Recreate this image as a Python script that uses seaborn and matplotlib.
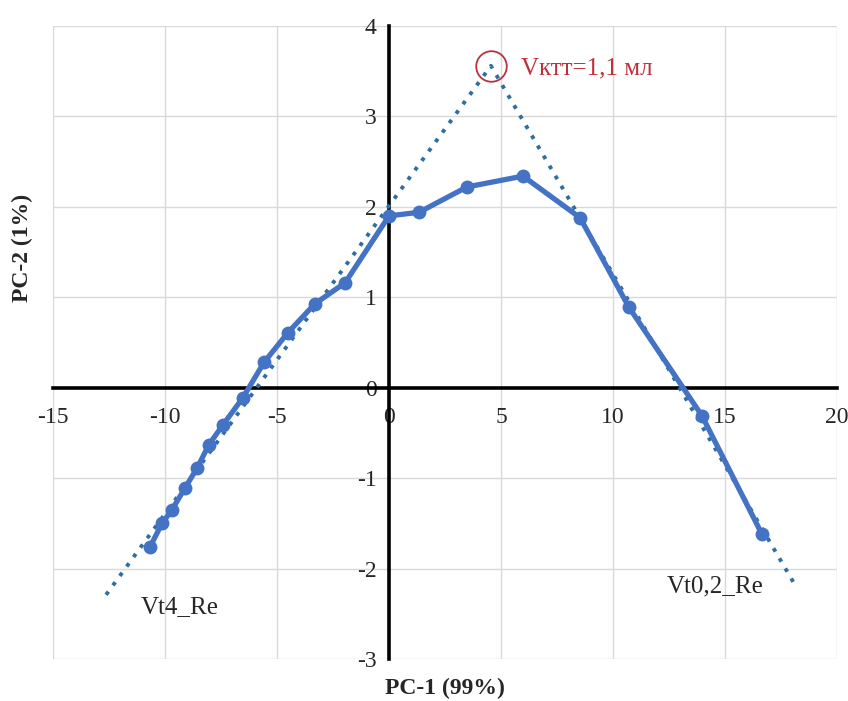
import matplotlib
matplotlib.use('Agg')
import matplotlib.pyplot as plt
import seaborn as sns
import pandas as pd

# точки кривой PC-1 / PC-2
pc1 = [-10.67, -10.13, -9.69, -9.11, -8.57, -8.04, -7.41, -6.52, -5.58, -4.51,
       -3.30, -1.96, 0.0, 1.34, 3.48, 5.98, 8.53, 10.71, 13.97, 16.65]
pc2 = [-1.76, -1.50, -1.35, -1.11, -0.89, -0.63, -0.41, -0.11, 0.28, 0.61,
       0.93, 1.16, 1.90, 1.94, 2.22, 2.34, 1.88, 0.89, -0.31, -1.62]

# линии тренда (пунктир)
trend_x = [-12.63, 4.55, 18.1]
trend_y = [-2.29, 3.56, -2.17]

# точка пересечения трендов
peak_x = [4.55]
peak_y = [3.56]

x_ticks = [-15, -10, -5, 0, 5, 10, 15, 20]
y_ticks = [-3, -2, -1, 0, 1, 2, 3, 4]

df = pd.DataFrame({'pc1': pc1, 'pc2': pc2})
trend = pd.DataFrame({'x': trend_x, 'y': trend_y})

sns.set_style('white')
plt.rcParams['font.family'] = ['Liberation Serif', 'DejaVu Serif']
plt.rcParams['axes.unicode_minus'] = False

fig = plt.figure(figsize=(8.48, 7.01), dpi=100)
ax = fig.add_axes([53 / 848, 42 / 701, 784 / 848, 633 / 701])

# пунктирные тренды
sns.lineplot(data=trend, x='x', y='y', sort=False, ax=ax, color='#2f6f9f',
             linestyle=(0, (1, 2.0)), linewidth=2.8, zorder=3)
# основная кривая
sns.lineplot(data=df, x='pc1', y='pc2', sort=False, ax=ax, color='#4472c4',
             linewidth=3.8, marker='o', markersize=10, markeredgewidth=0,
             zorder=4)
# кружок вокруг пересечения
ax.plot(peak_x, peak_y, marker='o', markersize=22, markerfacecolor='none',
        markeredgecolor='#b8323f', markeredgewidth=1.3, linestyle='none',
        zorder=5)

ax.text(5.9, 3.53, 'Vктт=1,1 мл', color='#c0303c', fontsize=18,
        va='center', ha='left')
ax.text(-11.1, -2.42, 'Vt4_Re', fontsize=18, va='center', ha='left')
ax.text(12.4, -2.2, 'Vt0,2_Re', fontsize=18, va='center', ha='left')

ax.set_xlim(-15, 20)
ax.set_ylim(-3, 4)
ax.set_xticks(x_ticks)
ax.set_yticks(y_ticks)
ax.set_xlabel('')
ax.set_ylabel('')

# оси через начало координат
ax.spines['left'].set_position(('data', 0))
ax.spines['bottom'].set_position(('data', 0))
ax.spines['top'].set_visible(False)
ax.spines['right'].set_visible(False)
for s in ['left', 'bottom']:
    ax.spines[s].set_color('black')
    ax.spines[s].set_linewidth(2.6)
    ax.spines[s].set_zorder(2)

ax.tick_params(axis='x', length=0, pad=14, labelsize=17)
ax.tick_params(axis='y', length=0, pad=9, labelsize=17)
ax.grid(True, color='#d9d9d9', linewidth=1.0)
ax.set_axisbelow(True)

fig.text(445 / 848, 13 / 701, 'PC-1 (99%)', fontsize=17, fontweight='bold',
         ha='center', va='center')
fig.text(22 / 848, 1 - 248 / 701, 'PC-2 (1%)', fontsize=17, fontweight='bold',
         ha='center', va='center', rotation=90)

fig.savefig('out.png', dpi=100)
